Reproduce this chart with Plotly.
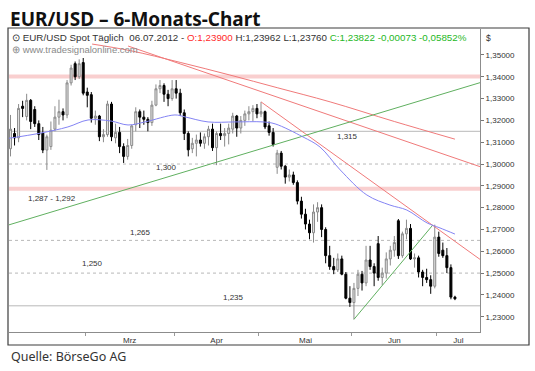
import plotly.graph_objects as go
import pandas as pd

# ---------------- data ----------------
dates = pd.bdate_range("2012-02-03", "2012-07-06")

opens = [1.3070, 1.3140, 1.3120, 1.3265, 1.3218, 1.3292, 1.3250, 1.3185, 1.3142, 1.3064,
         1.3080, 1.3160, 1.3215, 1.3240, 1.3225, 1.3372, 1.3460, 1.3400, 1.3465, 1.3330,
         1.3318, 1.3210, 1.3220, 1.3125, 1.3135, 1.3275, 1.3120, 1.3145, 1.3080, 1.3035,
         1.3085, 1.3180, 1.3240, 1.3215, 1.3205, 1.3190, 1.3270, 1.3345, 1.3360, 1.3320,
         1.3300, 1.3345, 1.3325, 1.3235, 1.3140, 1.3070, 1.3095, 1.3110, 1.3095, 1.3125,
         1.3160, 1.3075, 1.3140, 1.3130, 1.3140, 1.3160, 1.3220, 1.3165, 1.3200, 1.3230,
         1.3240, 1.3255, 1.3230, 1.3240, 1.3175, 1.3145, 1.2985, 1.3050, 1.2990, 1.2940,
         1.2950, 1.2915, 1.2830, 1.2770, 1.2725, 1.2685, 1.2780, 1.2800, 1.2700, 1.2580,
         1.2530, 1.2515, 1.2565, 1.2495, 1.2385, 1.2365, 1.2430, 1.2495, 1.2455, 1.2560,
         1.2530, 1.2635, 1.2480, 1.2500, 1.2565, 1.2605, 1.2740, 1.2580, 1.2680, 1.2705,
         1.2565, 1.2570, 1.2505, 1.2480, 1.2470, 1.2440, 1.2665, 1.2605, 1.2580, 1.2525,
         1.23900]
highs = [1.3225, 1.3165, 1.3275, 1.3290, 1.3322, 1.3298, 1.3265, 1.3200, 1.3170, 1.3135,
         1.3195, 1.3265, 1.3295, 1.3255, 1.3385, 1.3455, 1.3470, 1.3480, 1.3486, 1.3350,
         1.3330, 1.3245, 1.3225, 1.3160, 1.3290, 1.3285, 1.3185, 1.3170, 1.3095, 1.3115,
         1.3180, 1.3260, 1.3250, 1.3245, 1.3215, 1.3290, 1.3365, 1.3385, 1.3370, 1.3340,
         1.3385, 1.3385, 1.3345, 1.3250, 1.3150, 1.3120, 1.3135, 1.3145, 1.3140, 1.3175,
         1.3185, 1.3150, 1.3185, 1.3165, 1.3185, 1.3235, 1.3225, 1.3220, 1.3245, 1.3265,
         1.3270, 1.3275, 1.3285, 1.3245, 1.3195, 1.3165, 1.3065, 1.3060, 1.2995, 1.2975,
         1.2965, 1.2925, 1.2850, 1.2795, 1.2745, 1.2815, 1.2825, 1.2815, 1.2710, 1.2625,
         1.2570, 1.2590, 1.2580, 1.2505, 1.2440, 1.2455, 1.2515, 1.2510, 1.2625, 1.2625,
         1.2545, 1.2670, 1.2525, 1.2595, 1.2625, 1.2670, 1.2748, 1.2690, 1.2745, 1.2725,
         1.2590, 1.2580, 1.2515, 1.2520, 1.2490, 1.2722, 1.2690, 1.2640, 1.2615, 1.2540,
         1.23962]
lows = [1.3035, 1.3085, 1.3100, 1.3215, 1.3200, 1.3160, 1.3170, 1.3110, 1.3050, 1.2973,
        1.3065, 1.3150, 1.3180, 1.3200, 1.3210, 1.3360, 1.3385, 1.3390, 1.3315, 1.3260,
        1.3190, 1.3180, 1.3105, 1.3100, 1.3125, 1.3105, 1.3095, 1.3050, 1.3005, 1.3020,
        1.3070, 1.3150, 1.3165, 1.3180, 1.3150, 1.3175, 1.3265, 1.3325, 1.3285, 1.3265,
        1.3290, 1.3300, 1.3220, 1.3110, 1.3035, 1.3050, 1.3035, 1.3080, 1.3070, 1.3085,
        1.3060, 1.2995, 1.3110, 1.3080, 1.3090, 1.3140, 1.3125, 1.3140, 1.3175, 1.3200,
        1.3195, 1.3210, 1.3215, 1.3160, 1.3130, 1.3080, 1.2955, 1.2975, 1.2910, 1.2920,
        1.2905, 1.2815, 1.2750, 1.2700, 1.2655, 1.2640, 1.2735, 1.2665, 1.2545, 1.2515,
        1.2495, 1.2505, 1.2490, 1.2380, 1.2345, 1.2288, 1.2395, 1.2420, 1.2440, 1.2515,
        1.2440, 1.2465, 1.2445, 1.2475, 1.2535, 1.2575, 1.2565, 1.2570, 1.2655, 1.2560,
        1.2525, 1.2480, 1.2440, 1.2455, 1.2405, 1.2430, 1.2575, 1.2570, 1.2500, 1.2380,
        1.23760]
closes = [1.3160, 1.3120, 1.3255, 1.3255, 1.3292, 1.3195, 1.3185, 1.3135, 1.3064, 1.3125,
          1.3155, 1.3215, 1.3240, 1.3225, 1.3372, 1.3440, 1.3400, 1.3460, 1.3325, 1.3315,
          1.3210, 1.3220, 1.3125, 1.3135, 1.3275, 1.3125, 1.3145, 1.3080, 1.3035, 1.3085,
          1.3175, 1.3240, 1.3215, 1.3205, 1.3190, 1.3270, 1.3345, 1.3360, 1.3320, 1.3300,
          1.3345, 1.3325, 1.3235, 1.3140, 1.3065, 1.3095, 1.3110, 1.3095, 1.3125, 1.3160,
          1.3075, 1.3140, 1.3130, 1.3140, 1.3165, 1.3220, 1.3165, 1.3200, 1.3230, 1.3240,
          1.3255, 1.3230, 1.3240, 1.3170, 1.3145, 1.3090, 1.3050, 1.2990, 1.2940, 1.2950,
          1.2915, 1.2830, 1.2770, 1.2725, 1.2685, 1.2780, 1.2800, 1.2700, 1.2580, 1.2530,
          1.2515, 1.2565, 1.2495, 1.2385, 1.2365, 1.2430, 1.2495, 1.2455, 1.2560, 1.2530,
          1.2500, 1.2480, 1.2500, 1.2565, 1.2605, 1.2640, 1.2580, 1.2680, 1.2705, 1.2565,
          1.2570, 1.2505, 1.2480, 1.2470, 1.2440, 1.2665, 1.2590, 1.2580, 1.2525, 1.2390,
          1.23822]

# moving averages (trading-day index, price)
ma50_day = [-0.4, 7.5, 14.2, 19.2, 24.9, 29.1, 33.3, 40.7, 43.2, 48.9, 55.6, 62.5,
            65.5, 72.4, 76.6, 81.6, 88.2, 93.9, 98.1, 103.1, 106.3, 110.0]
ma50_val = [1.3118, 1.3142, 1.3170, 1.3202, 1.3197, 1.3179, 1.3193, 1.3225, 1.3216, 1.3193,
            1.3193, 1.3193, 1.3184, 1.3124, 1.3078, 1.2973, 1.2858, 1.2812, 1.2789, 1.2730,
            1.2707, 1.2679]
ma200_day = [20.2, 29.6, 42.0, 54.3, 66.0, 79.1, 95.0, 110.0]
ma200_val = [1.3550, 1.3520, 1.3466, 1.3408, 1.3350, 1.3285, 1.3195, 1.3114]

# trend lines (start day, start price, end day, end price)
red_lines = [(29.1, 1.3541, 116.2, 1.2988), (62.0, 1.3285, 116.2, 1.2563)]
green_lines = [(-0.4, 1.2721, 116.2, 1.3373), (85.0, 1.2288, 104.5, 1.2720)]

# horizontal levels and zones
level_values = [1.315, 1.300, 1.265, 1.250, 1.235]
level_texts = ["1,315", "1,300", "1,265", "1,250", "1,235"]
zone_low = [1.3392, 1.2877]
zone_high = [1.3410, 1.2896]
zone_text = "1,287 - 1,292"

month_labels = ["Mrz", "Apr", "Mai", "Jun", "Jul"]
y_ticks = [1.23, 1.24, 1.25, 1.26, 1.27, 1.28, 1.29, 1.30, 1.31, 1.32, 1.33, 1.34, 1.35]

# ---------------- layout constants ----------------
W, H = 535, 371
ML, MR, MT, MB = 9, 55, 29, 39
PW, PH = W - ML - MR, H - MT - MB
X_RANGE = [-0.37, 116.2]
Y_RANGE = [1.2230, 1.3619]


def px(xp):
    return (xp - ML) / PW


def py(yp):
    return (H - MB - yp) / PH


day = list(range(len(dates)))

# month tick positions (centre of each month's visible span) and boundaries
months = [d.month for d in dates]
starts = [i for i in range(len(months)) if i == 0 or months[i] != months[i - 1]]
bounds = [s - 0.5 for s in starts[1:]]
centers = []
for k, s in enumerate(starts[1:]):
    e = starts[k + 2] if k + 2 < len(starts) else X_RANGE[1] + 0.5
    centers.append((s + e - 1) / 2)

fig = go.Figure()

# zones and levels (below data)
shapes = []
for lo, hi in zip(zone_low, zone_high):
    shapes.append(dict(type="rect", xref="paper", yref="y", x0=0, x1=1, y0=lo, y1=hi,
                       fillcolor="rgba(240,140,140,0.42)", line=dict(width=0), layer="below"))
dash_style = ["solid", "dot", "dot", "dot", "solid"]
for v, ds in zip(level_values, dash_style):
    shapes.append(dict(type="line", xref="paper", yref="y", x0=0, x1=1, y0=v, y1=v,
                       line=dict(color="#b8b8b8", width=1, dash=ds), layer="below"))
# outer frame
shapes.append(dict(type="rect", xref="paper", yref="paper", x0=px(8), x1=px(529),
                   y0=py(345), y1=py(28), line=dict(color="#3c3c3c", width=1.2)))

fig.add_trace(go.Scatter(x=ma200_day, y=ma200_val, mode="lines",
                         line=dict(color="#f07a7a", width=1, shape="spline"), hoverinfo="skip"))
for (x0, y0, x1, y1) in red_lines:
    fig.add_trace(go.Scatter(x=[x0, x1], y=[y0, y1], mode="lines",
                             line=dict(color="#f07a7a", width=1), hoverinfo="skip"))
for (x0, y0, x1, y1) in green_lines:
    fig.add_trace(go.Scatter(x=[x0, x1], y=[y0, y1], mode="lines",
                             line=dict(color="#60b060", width=1), hoverinfo="skip"))
fig.add_trace(go.Scatter(x=ma50_day, y=ma50_val, mode="lines",
                         line=dict(color="#8484f4", width=1, shape="spline"), hoverinfo="skip"))

fig.add_trace(go.Candlestick(
    x=day, open=opens, high=highs, low=lows, close=closes,
    increasing=dict(line=dict(color="#8a8a8a", width=1), fillcolor="#e4e4e4"),
    decreasing=dict(line=dict(color="#000000", width=1), fillcolor="#000000"),
    whiskerwidth=0, hoverinfo="skip"))

ann = []
lab_font = dict(family="Liberation Sans, Arial", size=8, color="#333333")
level_pos = [(83.3, 1.3124), (38.7, 1.2986), (32.1, 1.2684), (20.2, 1.2546), (55.1, 1.2386)]
for t, (lx, ly) in zip(level_texts, level_pos):
    ann.append(dict(x=lx, y=ly, xref="x", yref="y", text=t, showarrow=False, font=lab_font))
ann.append(dict(x=10.3, y=1.2840, xref="x", yref="y", text=zone_text, showarrow=False, font=lab_font))

ann.append(dict(x=px(8), y=py(19), xref="paper", yref="paper", xanchor="left", yanchor="middle",
                text="<b>EUR/USD – 6-Monats-Chart</b>", showarrow=False,
                font=dict(family="Noto Sans", size=19, color="#111111")))
ann.append(dict(x=px(9), y=py(356), xref="paper", yref="paper", xanchor="left", yanchor="middle",
                text="Quelle: BörseGo AG", showarrow=False,
                font=dict(family="Noto Sans", size=12.5, color="#333333")))
hdr = ("⊙ EUR/USD Spot Täglich  06.07.2012 - <span style='color:#ff2a2a'>O:1,23900</span> "
       "H:1,23962 L:1,23760 <span style='color:#25b825'>C:1,23822 -0,00073 -0,05852%</span>")
ann.append(dict(x=px(11), y=py(37.5), xref="paper", yref="paper", xanchor="left", yanchor="middle",
                text=hdr, showarrow=False, borderpad=0,
                font=dict(family="Liberation Sans, Arial", size=9.8, color="#333333")))
ann.append(dict(x=px(11), y=py(49.5), xref="paper", yref="paper", xanchor="left", yanchor="middle",
                text="⊕ www.tradesignalonline.com", showarrow=False, borderpad=0,
                font=dict(family="Liberation Sans, Arial", size=9.5, color="#8a8a8a")))
ann.append(dict(x=px(484), y=py(38), xref="paper", yref="paper", xanchor="left", yanchor="middle",
                text="$", showarrow=False,
                font=dict(family="Liberation Sans, Arial", size=8.5, color="#333333")))

fig.update_layout(
    width=W, height=H, margin=dict(l=ML, r=MR, t=MT, b=MB, pad=0),
    paper_bgcolor="white", plot_bgcolor="white", showlegend=False,
    separators=",.", shapes=shapes, annotations=ann,
    xaxis=dict(range=X_RANGE, showgrid=False, zeroline=False, showline=True,
               linecolor="#8c8c8c", linewidth=1, tickvals=centers, ticktext=month_labels,
               ticks="", tickfont=dict(family="Liberation Sans, Arial", size=8, color="#333"),
               minor=dict(tickmode="array", tickvals=bounds, ticks="outside", ticklen=3,
                          tickcolor="#999999"),
               rangeslider=dict(visible=False), fixedrange=True),
    yaxis=dict(range=Y_RANGE, side="right", showgrid=False, zeroline=False, showline=True,
               linecolor="#8c8c8c", linewidth=1, tickvals=y_ticks, tickformat=".5f",
               ticks="outside", ticklen=3, tickcolor="#777777",
               tickfont=dict(family="Liberation Sans, Arial", size=8, color="#333"),
               fixedrange=True),
)

fig.write_html("out.html", include_plotlyjs=True, config={"displayModeBar": False},
               post_script="document.body.style.margin='0';document.body.style.overflow='hidden';")
